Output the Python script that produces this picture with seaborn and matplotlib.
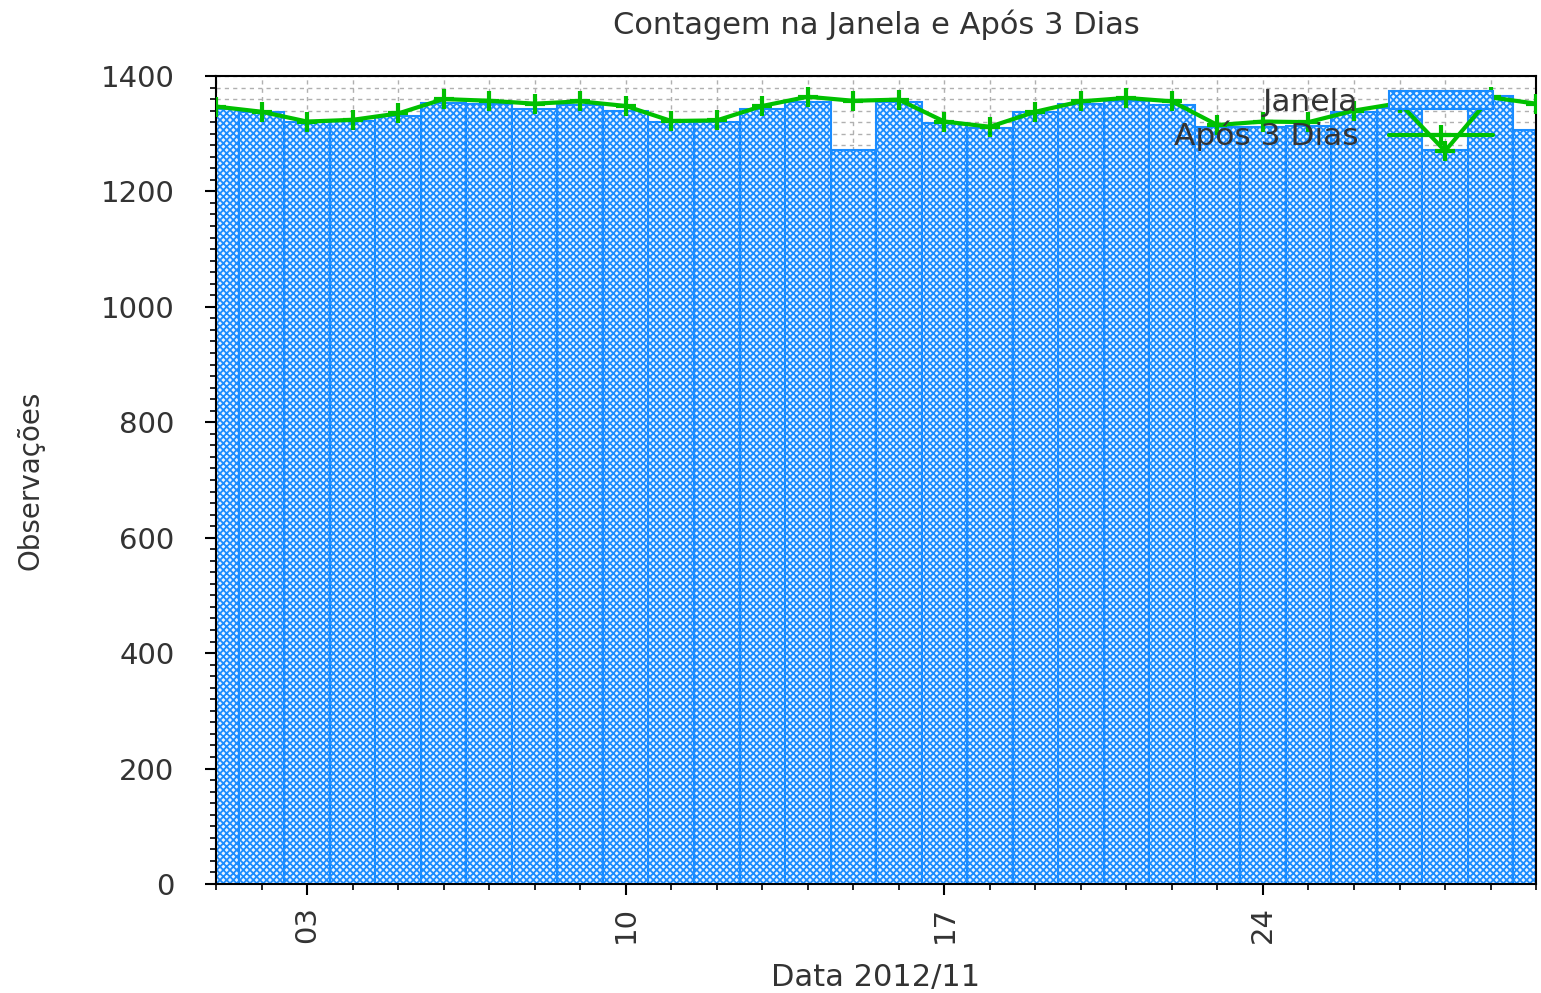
import numpy as np
import pandas as pd
import matplotlib
matplotlib.use('Agg')
import matplotlib.pyplot as plt
import matplotlib.ticker as mticker
from matplotlib.patches import Patch
from matplotlib.lines import Line2D
import seaborn as sns

sns.set_style('white')
plt.rcParams['font.family'] = ['DejaVu Sans']
plt.rcParams['hatch.linewidth'] = 1.3

# dias de novembro 2012
dias = list(range(1, 31))
janela = [1343, 1337, 1320, 1322, 1330, 1354, 1351, 1343, 1349, 1339,
          1320, 1320, 1343, 1355, 1272, 1355, 1318, 1309, 1337, 1352,
          1357, 1350, 1312, 1312, 1313, 1338, 1345, 1271, 1365, 1306]
apos_3_dias = [1347, 1338, 1321, 1324, 1335, 1360, 1357, 1352, 1356, 1348,
               1322, 1323, 1348, 1364, 1357, 1359, 1321, 1312, 1338, 1356,
               1362, 1356, 1315, 1321, 1320, 1340, 1353, 1270, 1363, 1352]
xticks_major = [3, 10, 17, 24]
xtick_labels = ['03', '10', '17', '24']

df = pd.DataFrame({'dia': dias, 'Janela': janela, 'Após 3 Dias': apos_3_dias})

azul = '#1a8cff'
verde = '#00c000'
texto = '#333333'

fig = plt.figure(figsize=(15.41, 9.93), dpi=100)
ax = fig.add_axes([0.1402, 0.1098, 0.8566, 0.8137])

sns.barplot(data=df, x='dia', y='Janela', native_scale=True, width=1.0,
            color=azul, ax=ax, zorder=2)
for p in ax.patches:
    p.set_facecolor('#eaf4ff')
    p.set_edgecolor(azul)
    p.set_hatch('xxxxx')
    p.set_linewidth(1.5)

sns.lineplot(data=df, x='dia', y='Após 3 Dias', color=verde, lw=3,
             marker='+', markersize=15, markeredgewidth=3,
             markeredgecolor=verde, ax=ax, zorder=3)

ax.set_xlim(1, 30)
ax.set_ylim(0, 1400)
ax.xaxis.set_major_locator(mticker.FixedLocator(xticks_major))
ax.xaxis.set_major_formatter(mticker.FixedFormatter(xtick_labels))
ax.xaxis.set_minor_locator(mticker.MultipleLocator(1))
ax.yaxis.set_major_locator(mticker.MultipleLocator(200))
ax.yaxis.set_minor_locator(mticker.MultipleLocator(20))

ax.grid(True, which='both', linestyle=(0, (3, 3)), color='#b0b0b0', lw=1.0, zorder=0)
ax.set_axisbelow(True)

ax.tick_params(axis='both', which='both', bottom=True, left=True, top=False, right=False)
ax.tick_params(axis='both', which='major', direction='out', length=8, width=1.5,
               labelsize=21, labelcolor=texto, color='black')
ax.tick_params(axis='both', which='minor', direction='out', length=4.5, width=1.2,
               color='black')
ax.tick_params(axis='x', which='major', labelrotation=90, pad=8)
ax.tick_params(axis='y', which='major', pad=22)
for s in ax.spines.values():
    s.set_color('black')
    s.set_linewidth(1.5)

ax.set_title('Contagem na Janela e Após 3 Dias', fontsize=22, color=texto, pad=30)
ax.set_xlabel('Data 2012/11', fontsize=22, color=texto, labelpad=14)
ax.set_ylabel('Observações', fontsize=20, color=texto, labelpad=40)

handles = [Patch(facecolor='#eaf4ff', edgecolor=azul, hatch='xxxxx', lw=1.5),
           Line2D([], [], color=verde, lw=3, marker='+', markersize=15, markeredgewidth=3)]
ax.legend(handles, ['Janela', 'Após 3 Dias'], loc='upper right', frameon=False,
          markerfirst=False, fontsize=22.5, labelcolor=texto, handlelength=3.3,
          handleheight=0.5, handletextpad=1.0, labelspacing=0.1, borderaxespad=0.0,
          borderpad=0.0, bbox_to_anchor=(0.967, 0.985))

fig.savefig('out.png', dpi=100)
